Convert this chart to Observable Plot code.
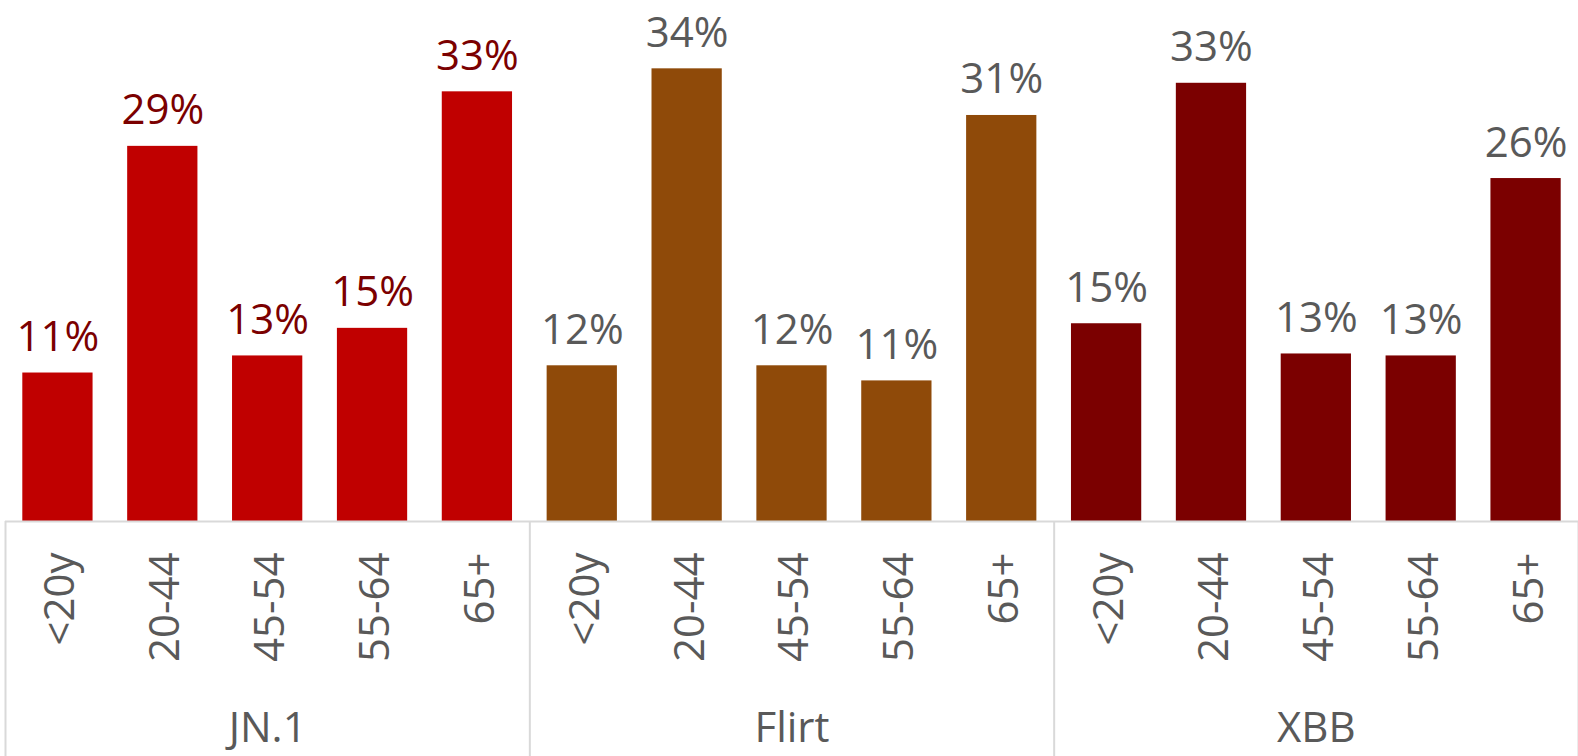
<!DOCTYPE html>
<html>
<head>
<meta charset="utf-8">
<script src="https://cdn.jsdelivr.net/npm/d3@7"></script>
<script src="https://cdn.jsdelivr.net/npm/@observablehq/plot@0.6"></script>
<style>
  html, body { margin: 0; padding: 0; background: #fff; }
  #chart { width: 1578px; height: 756px; overflow: hidden; }
</style>
</head>
<body>
<div id="chart"></div>
<script>
// ---- data ----
const groups = ["JN.1", "Flirt", "XBB"];
const ages = ["<20y", "20-44", "45-54", "55-64", "65+"];
const jn1Values   = [11.3, 28.55, 12.6, 14.7, 32.7];
const flirtValues = [11.85, 34.45, 11.85, 10.7, 30.9];
const xbbValues   = [15.05, 33.35, 12.75, 12.6, 26.1];
const barColors   = ["#C00000", "#8F4A09", "#7B0000"];
const labelColors = ["#7B0000", "#595959", "#595959"];

const series = [jn1Values, flirtValues, xbbValues];
const rows = groups.flatMap((g, gi) =>
  ages.map((a, ai) => ({group: g, gi, age: a, i: gi * ages.length + ai, value: series[gi][ai]}))
);
const boundaries = d3.range(groups.length + 1).map(k => k * ages.length - 0.5);
const groupCenters = groups.map((g, gi) => ({group: g, i: gi * ages.length + (ages.length - 1) / 2}));

const W = 1578, H = 756, MB = 235, MT = 0;
const yMax = 39.65;
const halfBar = 0.335;
const gray = "#595959";
const lineColor = "#D9D9D9";

const marks = [];
groups.forEach((g, gi) => {
  const sub = rows.filter(d => d.gi === gi);
  marks.push(Plot.rectY(sub, {x1: d => d.i - halfBar, x2: d => d.i + halfBar, y: "value", fill: barColors[gi]}));
  marks.push(Plot.text(sub, {
    x: "i", y: "value", text: d => Math.round(d.value) + "%",
    fill: labelColors[gi], lineAnchor: "bottom", dy: -22
  }));
});
marks.push(Plot.ruleY([0], {stroke: lineColor, strokeWidth: 2}));
marks.push(Plot.ruleX(boundaries, {stroke: lineColor, strokeWidth: 2, insetTop: H - MB - MT, insetBottom: -MB}));
marks.push(Plot.text(rows, {
  x: "i", text: "age", frameAnchor: "bottom", rotate: -90,
  textAnchor: "end", lineAnchor: "middle", dy: 31, dx: 3, fill: gray
}));
marks.push(Plot.text(groupCenters, {
  x: "i", text: "group", frameAnchor: "bottom", lineAnchor: "middle", dy: 207, fill: gray
}));

const chart = Plot.plot({
  width: W,
  height: H,
  marginLeft: 5,
  marginRight: 0,
  marginTop: MT,
  marginBottom: MB,
  x: {domain: [-0.5, groups.length * ages.length - 0.5], axis: null},
  y: {domain: [0, yMax], axis: null},
  style: {fontFamily: "'Open Sans', sans-serif", fontSize: "42px", background: "#fff", overflow: "visible"},
  marks
});
document.getElementById("chart").appendChild(chart);
</script>
</body>
</html>
